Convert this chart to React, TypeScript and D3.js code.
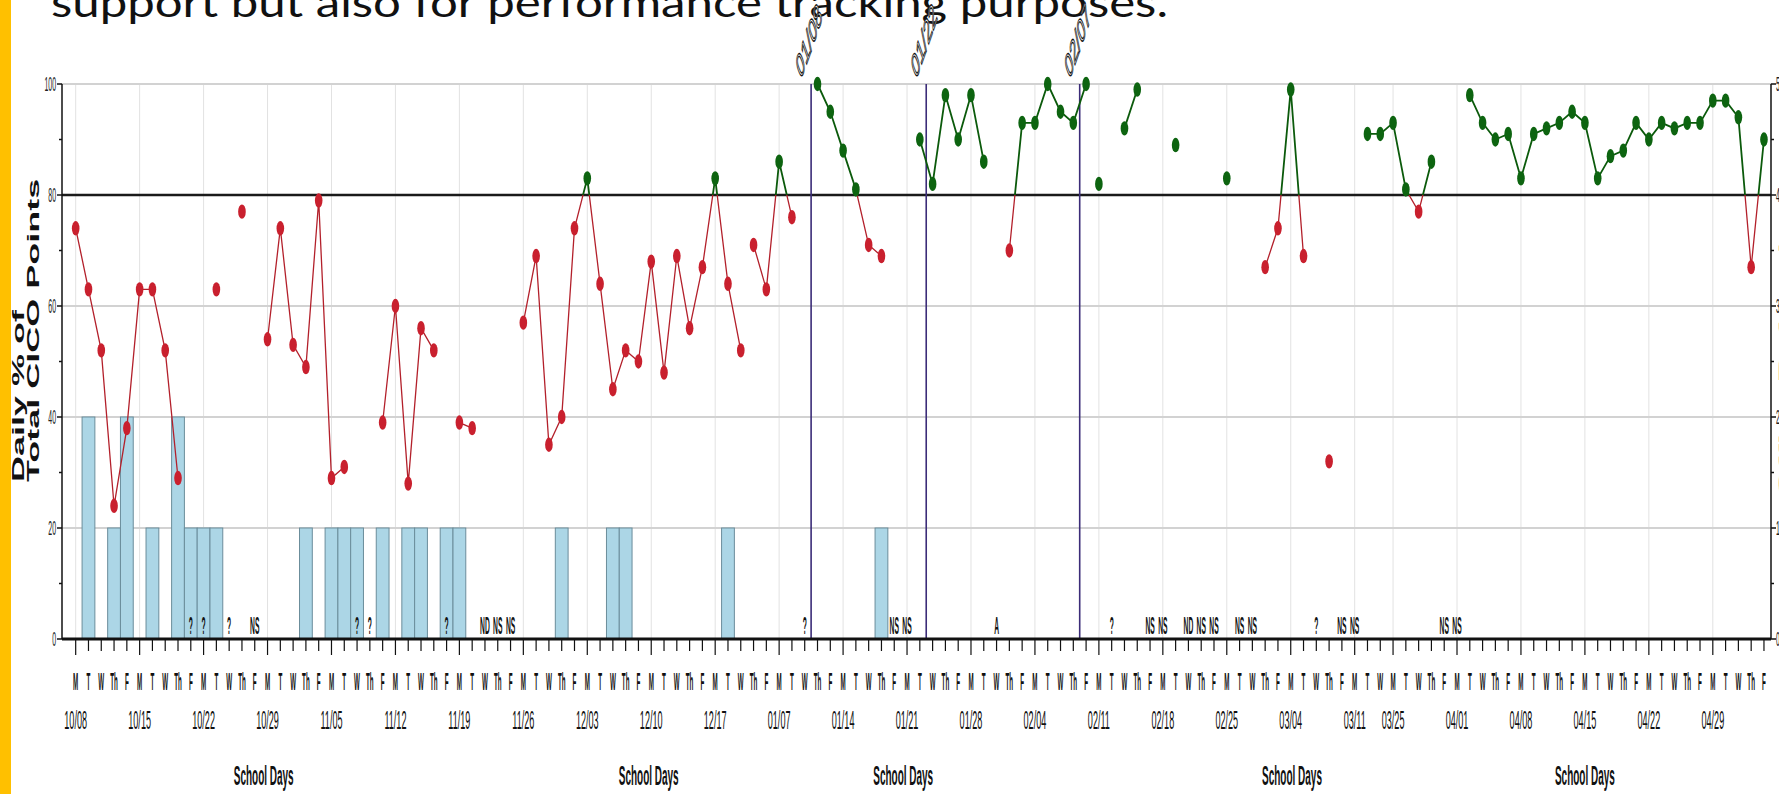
import React from 'react';
import * as d3 from 'd3';

// ---------- DATA ----------
const weekLabels = ['10/08','10/15','10/22','10/29','11/05','11/12','11/19','11/26','12/03','12/10','12/17','01/07','01/14','01/21','01/28','02/04','02/11','02/18','02/25','03/04','03/11','03/25','04/01','04/08','04/15','04/22','04/29'];
const weekLengths = [5,5,5,5,5,5,5,5,5,5,5,5,5,5,5,5,5,5,5,5,3,5,5,5,5,5,5];
const dayLetters = ['M','T','W','Th','F'];

// Daily % of total CICO points, one entry per school day (null = no data)
const cicoPercent: (number | null)[] = [
  74, 63, 52, 24, 38, 63, 63, 52, 29, null,
  null, 63, null, 77, null, 54, 74, 53, 49, 79,
  29, 31, null, null, 39, 60, 28, 56, 52, null,
  39, 38, null, null, null, 57, 69, 35, 40, 74,
  83, 64, 45, 52, 50, 68, 48, 69, 56, 67,
  83, 64, 52, 71, 63, 86, 76, null, 100, 95,
  88, 81, 71, 69, null, null, 90, 82, 98, 90,
  98, 86, null, 70, 93, 93, 100, 95, 93, 100,
  82, null, 92, 99, null, null, 89, null, null, null,
  83, null, null, 67, 74, 99, 69, null, 32, null,
  null, 91, 91, 93, 81, 77, 86, null, null, 98,
  93, 90, 91, 83, 91, 92, 93, 95, 93, 83,
  87, 88, 93, 90, 93, 92, 93, 93, 97, 97,
  94, 67, 90
];
const lineBreaksAfter = [52, 79];
const goal = 80;

// Bars (right axis counts)
const barDays = [1, 3, 4, 6, 8, 9, 10, 11, 18, 20, 21, 22, 24, 26, 27, 29, 30, 38, 42, 43, 51, 63];
const barCounts = [2, 1, 2, 1, 2, 1, 1, 1, 1, 1, 1, 1, 1, 1, 1, 1, 1, 1, 1, 1, 1, 1];

// Text codes under the days
const noteDays = [9, 10, 12, 14, 22, 23, 29, 32, 33, 34, 57, 64, 65, 72, 81, 84, 85, 87, 88, 89, 91, 92, 97, 99, 100, 107, 108];
const noteTexts = ['?', '?', '?', 'NS', '?', '?', '?', 'ND', 'NS', 'NS', '?', 'NS', 'NS', 'A', '?', 'NS', 'NS', 'ND', 'NS', 'NS', 'NS', 'NS', '?', 'NS', 'NS', 'NS', 'NS'];

// Phase change lines
const phaseDays = [57.5, 66.5, 78.5];
const phaseLabels = ['01/08', '01/22', '02/07'];

const leftTicks = [0, 20, 40, 60, 80, 100];
const rightTicks = [0, 1, 2, 3, 4, 5];
const gridValues = [20, 40, 60, 100];
const axisTitleAt = [14.7, 44.8, 64.7, 95.1, 118];

const FONT = '"Liberation Sans", Arial, sans-serif';

export default function App() {
  const W = 1779, H = 794;
  const x = d3.scaleLinear().domain([-1.07, 132.55]).range([62, 1771]);
  const y = d3.scaleLinear().domain([0, 100]).range([639, 84]);
  const yR = d3.scaleLinear().domain([0, 5]).range([639, 84]);
  const step = x(1) - x(0);
  const left = x.range()[0], right = x.range()[1];
  const top = y(100), bottom = y(0);

  const weekStarts: number[] = [];
  weekLengths.forEach((n, i) => weekStarts.push(i === 0 ? 0 : weekStarts[i - 1] + weekLengths[i - 1]));
  const days: { i: number; letter: string; monday: boolean }[] = [];
  weekLengths.forEach((n, w) => {
    for (let j = 0; j < n; j++) days.push({ i: weekStarts[w] + j, letter: dayLetters[j], monday: j === 0 });
  });

  type P = { d: number; v: number };
  const segments: P[][] = [];
  let cur: P[] = [];
  cicoPercent.forEach((v, d) => {
    if (v == null) { if (cur.length) segments.push(cur); cur = []; return; }
    cur.push({ d, v });
    if (lineBreaksAfter.includes(d)) { segments.push(cur); cur = []; }
  });
  if (cur.length) segments.push(cur);
  const points: P[] = cicoPercent.map((v, d) => ({ d, v: v as number })).filter(p => p.v != null);

  const line = d3.line<P>().x(p => x(p.d)).y(p => y(p.v));

  const RED_L = '#b3202b', RED_M = '#c9202e', GRN_L = '#0b5a0b', GRN_M = '#0d6410';

  const ct = (tx: number, ty: number, sx: number) => `translate(${tx},${ty}) scale(${sx},1)`;

  return (
    <svg width={W} height={H} style={{ position: 'absolute', left: 0, top: 0, background: '#fff' }} fontFamily={FONT}>
      <defs>
        <clipPath id="above"><rect x={0} y={0} width={W} height={y(goal)} /></clipPath>
        <clipPath id="below"><rect x={0} y={y(goal)} width={W} height={H - y(goal)} /></clipPath>
      </defs>
      <rect x={0} y={0} width={W} height={H} fill="#fff" />
      {/* slide title fragment */}
      <text x={51} y={17} fontFamily="Lato, 'Open Sans', sans-serif" fontSize={41} fill="#111" textLength={1117} lengthAdjust="spacingAndGlyphs">support but also for performance tracking purposes.</text>
      {/* yellow slide bar */}
      <rect x={0} y={0} width={11} height={H} fill="#FFC000" />

      {/* vertical grid at Mondays */}
      {weekStarts.map((d, i) => (
        <line key={'vg' + i} x1={x(d)} x2={x(d)} y1={top} y2={bottom} stroke="#e2e2e2" strokeWidth={1} />
      ))}
      {/* horizontal grid */}
      {gridValues.map(v => (
        <line key={'hg' + v} x1={left} x2={right} y1={y(v)} y2={y(v)} stroke="#d2d2d2" strokeWidth={2.2} />
      ))}

      {/* bars */}
      {barDays.map((d, i) => (
        <rect key={'b' + i} x={x(d) - step / 2} y={yR(barCounts[i])} width={step} height={bottom - yR(barCounts[i])}
          fill="#acd6e6" stroke="#6b8d9b" strokeWidth={1} />
      ))}

      {/* goal line */}
      <line x1={left} x2={right} y1={y(goal)} y2={y(goal)} stroke="#1a1a1a" strokeWidth={2.6} />

      {/* phase lines */}
      {phaseDays.map((d, i) => (
        <g key={'ph' + i}>
          <line x1={x(d)} x2={x(d)} y1={top} y2={bottom} stroke="#3b2c78" strokeWidth={1.6} />
          <text transform={`translate(${x(d) - 10},${80}) scale(0.35,1) rotate(-45)`} fontSize={35}
            fill="#fff" stroke="#111" strokeWidth={1.6}>{phaseLabels[i]}</text>
        </g>
      ))}

      {/* data lines with threshold colouring */}
      <g clipPath="url(#below)">
        {segments.map((s, i) => <path key={'lr' + i} d={line(s) || ''} fill="none" stroke={RED_L} strokeWidth={1.3} />)}
      </g>
      <g clipPath="url(#above)">
        {segments.map((s, i) => <path key={'lg' + i} d={line(s) || ''} fill="none" stroke={GRN_L} strokeWidth={1.8} />)}
      </g>
      {points.map(p => (
        <ellipse key={'m' + p.d} cx={x(p.d)} cy={y(p.v)} rx={3.8} ry={7.2} fill={p.v >= goal ? GRN_M : RED_M} />
      ))}

      {/* note codes */}
      {noteDays.map((d, i) => (
        <text key={'n' + i} transform={ct(x(d), 634, 0.28)} fontSize={24} fontWeight="bold" textAnchor="middle" fill="#111">{noteTexts[i]}</text>
      ))}

      {/* left axis */}
      <line x1={left} x2={left} y1={top} y2={bottom} stroke="#111" strokeWidth={1.5} />
      {d3.range(0, 101, 10).map(v => (
        <line key={'lt' + v} x1={left - (v % 20 === 0 ? 5 : 3)} x2={left} y1={y(v)} y2={y(v)} stroke="#111" strokeWidth={1.5} />
      ))}
      {leftTicks.map(v => (
        <text key={'ll' + v} transform={ct(left - 6, y(v) + 7, 0.33)} fontSize={21} textAnchor="end" fill="#222">{v}</text>
      ))}
      {/* y title */}
      <text transform={`translate(24,482) scale(0.44,1) rotate(-90)`} fontSize={36} fontWeight="bold" fill="#111">Daily % of</text>
      <text transform={`translate(39,482) scale(0.44,1) rotate(-90)`} fontSize={36} fontWeight="bold" fill="#111">Total CICO Points</text>

      {/* right axis */}
      <line x1={right} x2={right} y1={top} y2={bottom} stroke="#111" strokeWidth={1.5} />
      {d3.range(0, 5.01, 0.5).map(v => (
        <line key={'rt' + v} x1={right} x2={right + (v % 1 === 0 ? 5 : 3)} y1={yR(v)} y2={yR(v)} stroke="#111" strokeWidth={1.5} />
      ))}
      {rightTicks.map(v => (
        <text key={'rl' + v} transform={ct(right + 5, yR(v) + 7, 0.33)} fontSize={21} fill="#222">{v}</text>
      ))}
      <text transform={`translate(1788,360) scale(0.35,1) rotate(-90)`} fontSize={37} fontWeight="bold" textAnchor="middle" fill="#111">Office Referrals</text>

      {/* bottom axis */}
      <line x1={left} x2={right} y1={bottom} y2={bottom} stroke="#111" strokeWidth={3} />
      {days.map(dd => (
        <line key={'dt' + dd.i} x1={x(dd.i)} x2={x(dd.i)} y1={bottom} y2={bottom + (dd.monday ? 16 : 12)} stroke="#111" strokeWidth={1.2} />
      ))}
      {days.map(dd => (
        <text key={'dl' + dd.i} transform={ct(x(dd.i), 690, 0.26)} fontSize={24} fontWeight="bold" textAnchor="middle" fill="#111">{dd.letter}</text>
      ))}
      {weekLabels.map((lab, i) => (
        <text key={'wl' + i} transform={ct(x(weekStarts[i]), 729, 0.35)} fontSize={26} textAnchor="middle" fill="#111">{lab}</text>
      ))}
      {axisTitleAt.map((d, i) => (
        <text key={'st' + i} transform={ct(x(d), 785, 0.37)} fontSize={27} fontWeight="bold" textAnchor="middle" fill="#111">School Days</text>
      ))}
    </svg>
  );
}
